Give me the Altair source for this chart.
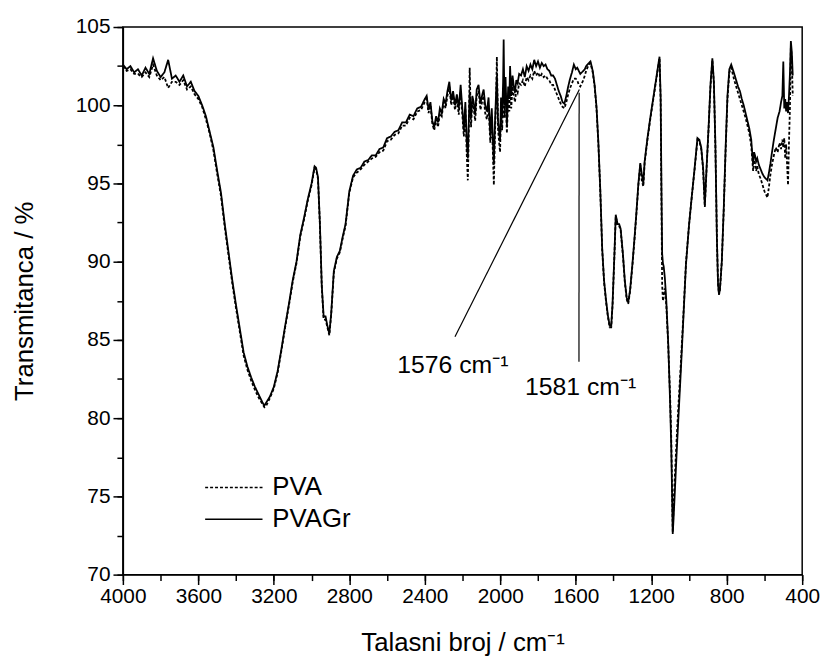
import altair as alt
import pandas as pd

FONT = "Liberation Sans"

# ---------------- spectrum data (wavenumber / cm-1, transmittance / %) ----------------
WN_A = [4000, 3980, 3960, 3940, 3920, 3900, 3880, 3860, 3840, 3820, 3800, 3780, 3760, 3740,
        3720, 3700, 3680, 3660, 3640, 3620, 3600, 3580, 3560]
GR_A = [102.6, 102.3, 102.5, 102.1, 102.3, 101.9, 102.4, 102.0, 103.0, 102.2, 101.8, 102.1, 102.9, 101.7,
        101.9, 101.5, 101.9, 101.2, 101.5, 100.9, 100.6, 100.0, 99.3]
PVA_A = [102.5, 102.2, 102.3, 102.0, 102.0, 101.8, 102.1, 101.8, 102.6, 101.9, 101.6, 101.8, 101.1, 101.5,
         101.5, 101.3, 101.6, 101.0, 101.2, 100.7, 100.4, 99.9, 99.1]

WN_B = [3540, 3520, 3500, 3480, 3460, 3440, 3420, 3400, 3380, 3360, 3340, 3320, 3300, 3280, 3260,
        3250, 3240, 3220, 3200, 3180, 3160, 3140, 3120, 3100, 3080, 3060, 3040, 3020, 3000,
        2990, 2984, 2976, 2966, 2956, 2946, 2936, 2926, 2916, 2906, 2896,
        2882, 2866, 2850, 2835, 2820, 2800]
GR_B = [98.3, 97.3, 95.8, 94.4, 92.4, 90.6, 88.8, 87.2, 85.7, 84.2, 83.3, 82.6, 82.0, 81.5, 81.0,
        80.8, 81.0, 81.4, 82.0, 83.0, 84.4, 85.9, 87.3, 88.8, 90.0, 91.7, 92.8, 94.0, 95.0,
        95.7, 96.1, 96.0, 95.4, 92.5, 88.5, 86.5, 86.5, 85.9, 85.4, 86.7,
        89.4, 90.3, 90.7, 91.6, 92.4, 94.5]
PVA_B = [98.2, 97.1, 95.6, 94.2, 92.2, 90.4, 88.6, 87.0, 85.5, 84.0, 83.1, 82.4, 81.8, 81.3, 80.9,
         80.7, 80.8, 81.3, 81.9, 82.9, 84.3, 85.8, 87.2, 88.7, 89.9, 91.6, 92.7, 93.9, 94.9,
         95.6, 96.0, 95.9, 95.3, 92.4, 88.4, 86.3, 86.3, 85.8, 85.3, 86.6,
         89.3, 90.2, 90.6, 91.5, 92.3, 94.4]

WN_C = [2780, 2760, 2740, 2720, 2700, 2680, 2660, 2640, 2620, 2600, 2580, 2560, 2540, 2520,
        2500, 2480, 2460, 2440, 2420, 2400]
GR_C = [95.5, 95.9, 96.0, 96.4, 96.5, 96.8, 96.8, 97.2, 97.3, 97.9, 98.0, 98.3, 98.4, 98.9,
        98.9, 99.4, 99.3, 99.8, 99.9, 100.4]
PVA_C = [95.4, 95.7, 95.9, 96.2, 96.4, 96.6, 96.7, 97.0, 97.1, 97.7, 97.8, 98.1, 98.2, 98.7,
         98.7, 99.2, 99.1, 99.6, 99.7, 100.2]

WN_D = [2390, 2380, 2370, 2360, 2350, 2340, 2330, 2320, 2310, 2300,
        2290, 2280, 2270, 2260, 2250, 2240, 2230, 2220, 2210, 2200,
        2193, 2185, 2178, 2172, 2168, 2162, 2155, 2148, 2141, 2133,
        2125, 2115, 2105, 2095, 2088, 2080, 2071, 2062, 2053, 2045,
        2038, 2034, 2028, 2022, 2018, 2012, 2006, 2001, 1996, 1990,
        1985, 1982, 1978, 1972, 1965, 1958, 1952, 1948, 1942, 1935,
        1928, 1922, 1915, 1908, 1900]
GR_D = [100.6, 99.7, 100.2, 99.0, 98.6, 99.3, 98.9, 99.8, 99.5, 100.4,
        100.1, 100.9, 101.5, 100.3, 100.9, 100.0, 100.7, 99.8, 101.3, 99.6,
        98.4, 100.2, 97.8, 96.6, 98.5, 100.8, 99.2, 100.6, 100.2, 99.4,
        101.0, 101.3, 100.1, 100.7, 101.0, 100.0, 99.6, 100.5, 98.1, 99.8,
        97.4, 96.2, 98.9, 100.8, 101.9, 99.0, 98.3, 97.7, 100.5, 99.2,
        101.5, 104.2, 100.0, 101.8, 98.7, 101.2, 100.4, 102.5, 100.6, 101.9,
        101.2, 100.8, 101.6, 101.4, 102.0]
PVA_D = [100.4, 99.5, 100.0, 98.8, 98.4, 99.1, 98.6, 99.5, 99.3, 100.2,
         99.8, 100.6, 101.2, 100.0, 100.6, 99.7, 100.4, 99.4, 100.9, 99.2,
         98.0, 99.8, 97.0, 95.2, 97.4, 102.4, 98.6, 100.2, 99.8, 99.0,
         100.6, 100.9, 99.7, 100.3, 100.6, 99.5, 99.1, 100.0, 97.6, 99.2,
         96.5, 94.9, 98.2, 100.4, 103.1, 98.5, 97.6, 97.0, 99.7, 98.4,
         100.3, 101.0, 99.2, 100.8, 98.2, 100.4, 99.6, 101.6, 99.8, 101.2,
         100.6, 100.2, 101.0, 100.8, 101.4]

WN_E = [1890, 1880, 1870, 1860, 1850, 1840, 1830, 1820, 1810, 1800,
        1790, 1780, 1770, 1760, 1750, 1740, 1730, 1720, 1710, 1700,
        1690, 1680, 1670, 1660, 1650, 1640, 1630, 1620, 1610, 1600,
        1592, 1584, 1576, 1568, 1560, 1552, 1545, 1538, 1530, 1522]
GR_E = [101.9, 102.3, 101.8, 102.5, 102.2, 102.6, 102.3, 102.9, 102.5, 102.8,
        102.4, 102.7, 102.5, 102.6, 102.3, 102.2, 101.9, 101.9, 101.7, 101.3,
        100.9, 100.6, 100.2, 100.1, 100.6, 101.2, 101.7, 102.1, 102.6, 102.3,
        102.4, 102.2, 102.0, 102.1, 102.2, 102.3, 102.5, 102.6, 102.7, 102.8]
PVA_E = [101.3, 101.6, 101.2, 101.8, 101.6, 101.9, 101.7, 102.2, 101.9, 102.1,
         101.8, 102.0, 101.8, 101.9, 101.7, 101.6, 101.3, 101.3, 101.0, 100.7,
         100.4, 100.1, 99.9, 99.8, 100.2, 100.7, 101.1, 101.4, 101.7, 101.7,
         101.6, 101.3, 101.2, 101.4, 101.6, 101.9, 102.2, 102.4, 102.6, 102.7]

WN_F = [1510, 1500, 1490, 1480, 1470, 1460, 1450, 1440, 1430, 1420,
        1412, 1405, 1395, 1388, 1378, 1370, 1362, 1350, 1340, 1330,
        1322, 1312, 1300, 1290, 1280, 1268, 1258, 1250, 1242, 1235,
        1220, 1205, 1190, 1180, 1170, 1160]
GR_F = [102.2, 101.3, 99.9, 97.6, 94.6, 90.9, 88.8, 87.6, 86.6, 85.9,
        85.9, 87.3, 90.5, 93.0, 92.4, 92.4, 92.1, 90.5, 88.8, 87.7,
        87.4, 88.2, 89.8, 91.3, 92.9, 95.0, 96.3, 95.6, 95.0, 96.4,
        97.9, 99.2, 100.4, 101.2, 102.0, 102.8]
PVA_F = [102.1, 101.2, 99.8, 97.5, 94.5, 90.8, 88.7, 87.5, 86.5, 85.8,
         85.8, 87.2, 90.4, 92.9, 92.3, 92.3, 92.0, 90.4, 88.7, 87.6,
         87.3, 88.1, 89.7, 91.2, 92.8, 94.9, 96.2, 95.2, 94.8, 96.3,
         97.8, 99.1, 100.3, 101.1, 101.9, 102.7]

WN_G = [1156, 1150, 1146, 1142, 1138, 1134, 1128, 1120, 1110, 1100,
        1094, 1090, 1086, 1082, 1076, 1066, 1056, 1044, 1030, 1016,
        1000, 988, 970, 955, 945, 935, 925, 916, 906, 896,
        886, 876, 868, 860, 852, 846, 841, 836, 826, 816,
        806, 796, 786]
GR_G = [103.1, 100.5, 95.0, 90.5, 89.9, 89.7, 89.0, 87.5, 84.8, 81.0,
        78.2, 75.5, 72.6, 73.5, 75.0, 77.6, 80.0, 82.8, 86.3, 89.8,
        92.3, 93.8, 96.0, 97.9, 97.8, 97.3, 96.0, 93.6, 96.2, 98.6,
        101.3, 103.0, 101.5, 97.5, 91.5, 88.6, 87.9, 88.2, 90.0, 93.3,
        97.2, 100.6, 102.3]
PVA_G = [103.0, 100.2, 94.0, 88.5, 87.5, 87.8, 88.3, 87.2, 84.7, 81.4,
         78.8, 76.0, 72.7, 74.2, 76.0, 78.5, 80.8, 83.3, 86.5, 89.9,
         92.3, 93.8, 95.9, 97.8, 97.7, 97.2, 95.9, 93.5, 96.1, 98.5,
         101.2, 102.9, 101.4, 97.4, 91.5, 88.6, 87.9, 88.2, 90.0, 93.2,
         97.0, 100.4, 102.1]

WN_H = [776, 768, 760, 750, 740, 730, 720, 710, 700, 690,
        680, 670, 660, 655, 650, 644, 638, 630, 620, 610,
        600, 592, 584, 576, 568, 560, 550, 540, 530, 520,
        512, 505, 500, 495, 490, 485, 480, 475, 470, 465,
        460, 455, 450]
GR_H = [102.6, 102.3, 102.0, 101.6, 101.2, 100.9, 100.4, 100.0, 99.5, 99.0,
        98.5, 97.8, 96.2, 97.0, 96.8, 96.4, 96.6, 96.2, 95.9, 95.6,
        95.4, 95.3, 95.2, 95.7, 96.3, 97.0, 97.8, 98.5, 99.2, 99.6,
        100.2, 100.6, 102.8, 99.8, 100.4, 99.6, 100.2, 99.5, 100.6, 102.0,
        104.1, 103.4, 101.9]
PVA_H = [102.4, 102.0, 101.6, 101.2, 100.8, 100.4, 100.0, 99.6, 99.2, 98.7,
         98.2, 97.4, 95.8, 96.5, 96.3, 95.8, 96.1, 95.6, 95.3, 94.9,
         94.5, 94.3, 94.1, 94.8, 95.6, 96.2, 96.8, 97.3, 97.0, 97.6,
         97.2, 97.8, 97.3, 97.9, 96.6, 97.5, 96.2, 94.9, 97.6, 99.8,
         103.8, 102.9, 100.6]

WAVENUMBER = WN_A + WN_B + WN_C + WN_D + WN_E + WN_F + WN_G + WN_H
T_PVAGR = GR_A + GR_B + GR_C + GR_D + GR_E + GR_F + GR_G + GR_H
T_PVA = PVA_A + PVA_B + PVA_C + PVA_D + PVA_E + PVA_F + PVA_G + PVA_H

SERIES = ["PVA", "PVAGr"]

# axis ticks
X_TICKS = [4000, 3600, 3200, 2800, 2400, 2000, 1600, 1200, 800, 400]
X_MINOR = [4000, 3800, 3600, 3400, 3200, 3000, 2800, 2600, 2400, 2200, 2000,
           1800, 1600, 1400, 1200, 1000, 800, 600, 400]
Y_TICKS = [70, 75, 80, 85, 90, 95, 100, 105]
Y_MINOR = [70, 72.5, 75, 77.5, 80, 82.5, 85, 87.5, 90, 92.5, 95, 97.5, 100, 102.5, 105]

# annotations (data coordinates)
ANN_LABELS = ["1576 cm\u207b\u00b9", "1581 cm\u207b\u00b9"]
ANN_TEXT_WN = [2546, 1869]
ANN_TEXT_T = [82.9, 81.5]
ANN_LINE_WN1 = [2240, 1583]
ANN_LINE_T1 = [85.2, 83.6]
ANN_LINE_WN2 = [1581, 1582]
ANN_LINE_T2 = [101.0, 100.8]

# legend (data coordinates)
LEG_WN1 = [3564, 3564]
LEG_WN2 = [3260, 3260]
LEG_TEXT_WN = [3208, 3208]
LEG_T = [75.57, 73.54]

# ---------------- tables ----------------
rows = []
for w, a, b in zip(WAVENUMBER, T_PVA, T_PVAGR):
    rows.append({"wn": w, "T": a, "series": "PVA"})
    rows.append({"wn": w, "T": b, "series": "PVAGr"})
df = pd.DataFrame(rows)

ann_lines = pd.DataFrame({"wn1": ANN_LINE_WN1, "t1": ANN_LINE_T1, "wn2": ANN_LINE_WN2, "t2": ANN_LINE_T2})
ann_text = pd.DataFrame({"wn": ANN_TEXT_WN, "T": ANN_TEXT_T, "label": ANN_LABELS})
leg = pd.DataFrame({"wn1": LEG_WN1, "wn2": LEG_WN2, "wnt": LEG_TEXT_WN, "T": LEG_T, "series": SERIES})

XS = alt.Scale(domain=[400, 4000], reverse=True, nice=False, zero=False)
YS = alt.Scale(domain=[70, 105], nice=False, zero=False)
DASH = alt.Scale(domain=SERIES, range=[[3, 2], [1, 0]])

AX_X = alt.Axis(values=X_TICKS, orient="bottom", format="d", grid=False,
                labelFont=FONT, labelFontSize=21, labelColor="black", labelPadding=1,
                labelFlush=False, labelOverlap=False,
                tickSize=10, tickWidth=1.5, tickColor="black",
                domainColor="black", domainWidth=1.5,
                title="Talasni broj / cm\u207b\u00b9", titleFont=FONT, titleFontSize=26,
                titleFontWeight="normal", titleColor="black",
                titleX=343, titleY=77, titleBaseline="alphabetic", titleAlign="center")
AX_Y = alt.Axis(values=Y_TICKS, orient="left", grid=False,
                labelFont=FONT, labelFontSize=21, labelColor="black", labelPadding=3,
                labelOverlap=False,
                tickSize=10, tickWidth=1.5, tickColor="black",
                domainColor="black", domainWidth=1.5,
                title="Transmitanca / %", titleFont=FONT, titleFontSize=26,
                titleFontWeight="normal", titleColor="black", titleAngle=270,
                titleX=-91, titleY=276.5, titleBaseline="alphabetic", titleAlign="center")
AX_XMIN = alt.Axis(values=X_MINOR, orient="bottom", labels=False, domain=False, grid=False,
                   tickSize=6, tickWidth=1.5, tickColor="black", title=None)
AX_YMIN = alt.Axis(values=Y_MINOR, orient="left", labels=False, domain=False, grid=False,
                   tickSize=6, tickWidth=1.5, tickColor="black", title=None)

minor = alt.Chart(df).mark_line(strokeOpacity=0).encode(
    x=alt.X("wn:Q", scale=XS, axis=AX_XMIN),
    y=alt.Y("T:Q", scale=YS, axis=AX_YMIN),
    detail="series:N",
)

lines = alt.Chart(df).mark_line(strokeWidth=1.8, color="black").encode(
    x=alt.X("wn:Q", scale=XS, axis=AX_X),
    y=alt.Y("T:Q", scale=YS, axis=AX_Y),
    strokeDash=alt.StrokeDash("series:N", scale=DASH, legend=None),
)

arrows = alt.Chart(ann_lines).mark_rule(color="black", strokeWidth=1.2).encode(
    x=alt.X("wn1:Q", scale=XS, axis=None),
    y=alt.Y("t1:Q", scale=YS, axis=None),
    x2="wn2:Q",
    y2="t2:Q",
)

ann = alt.Chart(ann_text).mark_text(align="left", baseline="alphabetic", font=FONT,
                                    fontSize=25, color="black").encode(
    x=alt.X("wn:Q", scale=XS, axis=None),
    y=alt.Y("T:Q", scale=YS, axis=None),
    text="label:N",
)

leg_lines = alt.Chart(leg).mark_rule(color="black", strokeWidth=1.6).encode(
    x=alt.X("wn1:Q", scale=XS, axis=None),
    x2="wn2:Q",
    y=alt.Y("T:Q", scale=YS, axis=None),
    strokeDash=alt.StrokeDash("series:N", scale=DASH, legend=None),
)

leg_text = alt.Chart(leg).mark_text(align="left", baseline="middle", font=FONT,
                                    fontSize=26, color="black").encode(
    x=alt.X("wnt:Q", scale=XS, axis=None),
    y=alt.Y("T:Q", scale=YS, axis=None),
    text="series:N",
)

chart = alt.layer(minor, lines, arrows, ann, leg_lines, leg_text).resolve_axis(
    x="independent", y="independent"
).properties(
    width=686, height=553,
    autosize=alt.AutoSizeParams(type="none"),
    padding={"left": 116, "top": 16, "right": 19, "bottom": 81},
).configure_view(stroke="black", strokeWidth=1.5)

chart.save("out.html", embed_options={"renderer": "svg", "actions": False})
